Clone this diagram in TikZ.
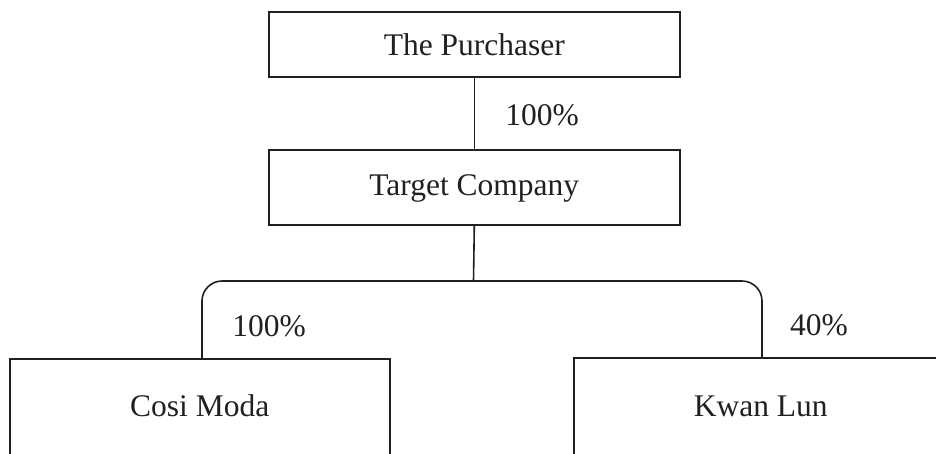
\documentclass[tikz,border=0pt]{standalone}
\usepackage{fontspec}
\setmainfont{Liberation Serif}
\definecolor{ink}{RGB}{35,31,32}
\begin{document}
\begin{tikzpicture}[x=1pt,y=-1pt,
  every node/.style={font=\fontsize{31.5}{36}\selectfont, text=ink},
  box/.style={draw=ink, line width=1.6pt, rectangle, inner sep=0pt, anchor=north west},
  pct/.style={inner sep=0pt, anchor=base},
  link/.style={draw=ink, line width=1.6pt}]
\clip (0,0) rectangle (936,453);
\node[box, minimum width=411pt, text height=44pt, text depth=21pt] (purch) at (268,11) {The Purchaser};
\node[box, minimum width=411pt, text height=46pt, text depth=29pt] (target) at (268,149) {Target Company};
\node[box, minimum width=380pt, text height=58pt, text depth=90pt] (cosi) at (9,358) {Cosi Moda};
\node[box, minimum width=374pt, text height=59pt, text depth=90pt] (kwan) at (573,357) {Kwan Lun};
\node[pct] (p1) at (542,125) {100\%};
\node[pct] (p2) at (269,336) {100\%};
\node[pct] (p3) at (819,335) {40\%};
\coordinate (bar) at (473.5,281);
\coordinate (cl) at (202,281);
\coordinate (kr) at (762,281);
\draw[link] (purch.south) -- (target.north);
\draw[link] (target.south) -- (bar);
\draw[link, rounded corners=20pt] (cosi.north -| cl) |- (bar) -| (kwan.north -| kr);
\end{tikzpicture}
\end{document}
